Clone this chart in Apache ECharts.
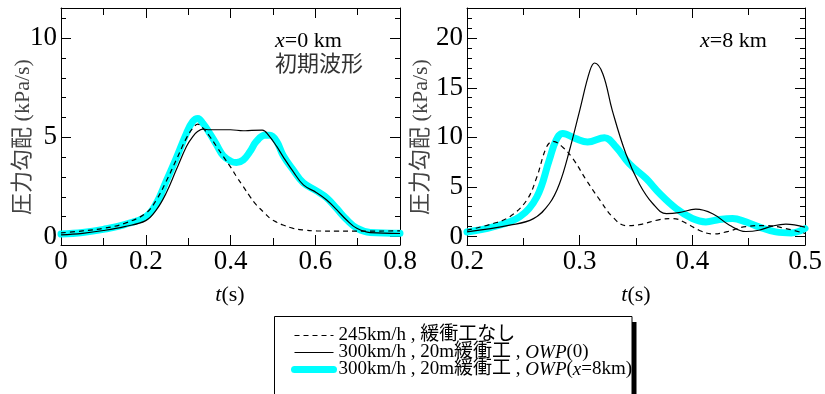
<!DOCTYPE html>
<html>
<head>
<meta charset="utf-8">
<script src="https://cdn.jsdelivr.net/npm/echarts@6/dist/echarts.min.js"></script>
<style>
html,body{margin:0;padding:0;background:#fff;}
#c{width:825px;height:394px;}
</style>
</head>
<body>
<div id="c"></div>
<script>
// ---------- data ----------
// Left panel: x = 0 km (initial waveform)
const L_dash_t = [0, 0.051, 0.1, 0.15, 0.2, 0.225, 0.248, 0.272, 0.296, 0.311, 0.323, 0.335, 0.351, 0.367, 0.383, 0.402, 0.414, 0.43, 0.446, 0.461, 0.481, 0.493, 0.509, 0.524, 0.548, 0.572, 0.603, 0.65, 0.7, 0.8];
const L_dash_v = [0.18, 0.28, 0.41, 0.66, 1.17, 1.84, 2.77, 3.86, 4.96, 5.46, 5.66, 5.46, 5.04, 4.54, 4.03, 3.44, 3.02, 2.52, 2.01, 1.59, 1.17, 0.92, 0.72, 0.58, 0.41, 0.33, 0.28, 0.27, 0.27, 0.28];

const L_solid_t = [0, 0.051, 0.1, 0.15, 0.2, 0.225, 0.248, 0.272, 0.296, 0.311, 0.323, 0.335, 0.351, 0.4, 0.43, 0.45, 0.475, 0.49, 0.509, 0.524, 0.548, 0.572, 0.603, 0.627, 0.651, 0.674, 0.698, 0.73, 0.8];
const L_solid_v = [0.08, 0.16, 0.3, 0.5, 0.8, 1.34, 2.18, 3.36, 4.54, 5.04, 5.3, 5.41, 5.38, 5.38, 5.33, 5.35, 5.36, 5.1, 4.54, 4.03, 3.27, 2.6, 2.21, 1.84, 1.34, 0.83, 0.41, 0.19, 0.15];

const L_cyan_t = [0, 0.051, 0.1, 0.15, 0.2, 0.225, 0.248, 0.272, 0.296, 0.311, 0.323, 0.335, 0.351, 0.367, 0.383, 0.402, 0.414, 0.43, 0.446, 0.461, 0.481, 0.493, 0.509, 0.524, 0.548, 0.572, 0.603, 0.627, 0.651, 0.674, 0.698, 0.73, 0.8];
const L_cyan_v = [0.12, 0.2, 0.36, 0.6, 1.0, 1.67, 2.77, 3.95, 5.2, 5.8, 5.95, 5.7, 5.2, 4.63, 4.07, 3.78, 3.73, 3.86, 4.28, 4.79, 5.1, 5.1, 4.79, 4.1, 3.35, 2.7, 2.3, 1.95, 1.4, 0.85, 0.42, 0.2, 0.16];

// Right panel: x = 8 km
const R_dash_t = [0.2, 0.223, 0.238, 0.253, 0.262, 0.2705, 0.2764, 0.285, 0.294, 0.306, 0.318, 0.329, 0.341, 0.353, 0.371, 0.383, 0.395, 0.406, 0.418, 0.43, 0.4475, 0.465, 0.483, 0.5];
const R_dash_v = [0.63, 1.3, 2.0, 3.66, 6.0, 9.0, 9.6, 9.0, 7.85, 5.67, 3.66, 2.0, 1.1, 1.2, 1.7, 1.81, 1.31, 0.63, 0.25, 0.46, 1.0, 1.1, 0.8, 0.3];

const R_solid_t = [0.2, 0.238, 0.259, 0.273, 0.282, 0.291, 0.3, 0.309, 0.3133, 0.3206, 0.329, 0.341, 0.353, 0.365, 0.377, 0.388, 0.403, 0.418, 0.433, 0.4475, 0.459, 0.471, 0.483, 0.5];
const R_solid_v = [0.46, 1.14, 1.8, 3.3, 5.3, 8.7, 12.7, 16.7, 17.5, 16.4, 12.7, 8.35, 5.3, 3.3, 2.3, 2.4, 2.75, 2.3, 1.14, 0.5, 0.63, 1.05, 1.25, 0.95];

const R_cyan_t = [0.2, 0.223, 0.247, 0.262, 0.273, 0.279, 0.285, 0.2965, 0.307, 0.322, 0.3325, 0.344, 0.359, 0.371, 0.3856, 0.4, 0.412, 0.424, 0.4357, 0.4475, 0.459, 0.474, 0.488, 0.5];
const R_cyan_v = [0.46, 0.97, 2.0, 4.0, 7.7, 9.7, 10.4, 9.87, 9.53, 9.97, 9.0, 7.35, 5.84, 4.33, 2.82, 1.81, 1.47, 1.71, 1.81, 1.47, 0.97, 0.46, 0.36, 0.8];

// axis ticks / labels
const L_yMajor = [0, 5, 10];
const L_yMinor = [1, 2, 3, 4, 6, 7, 8, 9, 11];
const R_yMajor = [0, 5, 10, 15, 20];
const R_yMinor = [1, 2, 3, 4, 6, 7, 8, 9, 11, 12, 13, 14, 16, 17, 18, 19, 21, 22, 23];

const legendNames = ['245km/h , 緩衝工なし', '300km/h , 20m緩衝工 , {i|OWP}(0)', '300km/h , 20m緩衝工 , {i|OWP}({i|x}=8km)'];
const yName = '圧力勾配 (kPa/s)';

// ---------- build ----------
const pairs = (t, v) => t.map((x, i) => [x, v[i]]);
const FONT = '"Liberation Serif", "Noto Sans CJK JP", serif';
const black = '#000';

function xAxis(grid, pos, min, max, interval, labels) {
  return {
    type: 'value', gridIndex: grid, position: pos, min: min, max: max, interval: interval,
    axisLine: { show: true, onZero: false, lineStyle: { color: black, width: 1 } },
    axisTick: { show: true, inside: true, length: 10, lineStyle: { color: black } },
    minorTick: { show: true, splitNumber: 2, length: 7, lineStyle: { color: black } },
    splitLine: { show: false }, minorSplitLine: { show: false },
    axisLabel: {
      show: labels, margin: 3, color: black, fontFamily: FONT, fontSize: 27,
      formatter: v => (Math.abs(v) < 1e-9 ? '0' : v.toFixed(1))
    }
  };
}
function yAxis(grid, pos, min, max, values, len, labels, line) {
  return {
    type: 'value', gridIndex: grid, position: pos, min: min, max: max,
    axisLine: { show: line, onZero: false, lineStyle: { color: black, width: 1 } },
    axisTick: { show: true, inside: true, length: len, customValues: values, lineStyle: { color: black } },
    splitLine: { show: false },
    axisLabel: { show: labels, customValues: values, margin: 4, color: black, fontFamily: FONT, fontSize: 27 }
  };
}

const LYMIN = -0.43, LYMAX = 11.52, RYMIN = -0.86, RYMAX = 23.05;

function lineSeries(name, data, xi, yi, kind) {
  const s = { name: name, type: 'line', data: data, xAxisIndex: xi, yAxisIndex: yi, smooth: 0.4, symbol: 'none', showSymbol: false, animation: false, silent: true };
  if (kind === 'cyan') s.lineStyle = { color: '#00ffff', width: 7, cap: 'round', join: 'round' };
  if (kind === 'solid') s.lineStyle = { color: black, width: 1.2 };
  if (kind === 'dash') s.lineStyle = { color: black, width: 1.2, type: [5, 4] };
  s.itemStyle = { color: kind === 'cyan' ? '#00ffff' : black };
  return s;
}

const option = {
  backgroundColor: '#fff',
  animation: false,
  grid: [
    { left: 61, top: 8, width: 339, height: 237 },
    { left: 467, top: 8, width: 338, height: 237 }
  ],
  xAxis: [
    xAxis(0, 'bottom', 0, 0.8, 0.2, true),
    xAxis(0, 'top', 0, 0.8, 0.2, false),
    xAxis(1, 'bottom', 0.2, 0.5, 0.1, true),
    xAxis(1, 'top', 0.2, 0.5, 0.1, false)
  ],
  yAxis: [
    yAxis(0, 'left', LYMIN, LYMAX, L_yMajor, 10, true, true),
    yAxis(0, 'left', LYMIN, LYMAX, L_yMinor, 5, false, false),
    yAxis(0, 'right', LYMIN, LYMAX, L_yMajor, 10, false, true),
    yAxis(0, 'right', LYMIN, LYMAX, L_yMinor, 5, false, false),
    yAxis(1, 'left', RYMIN, RYMAX, R_yMajor, 10, true, true),
    yAxis(1, 'left', RYMIN, RYMAX, R_yMinor, 5, false, false),
    yAxis(1, 'right', RYMIN, RYMAX, R_yMajor, 10, false, true),
    yAxis(1, 'right', RYMIN, RYMAX, R_yMinor, 5, false, false)
  ],
  legend: {
    orient: 'vertical', left: 291, top: 326, padding: 0, itemWidth: 39, itemHeight: 10, itemGap: -2,
    selectedMode: false, z: 10,
    itemStyle: { opacity: 0 },
    textStyle: { fontFamily: FONT, fontSize: 19, color: black,
      rich: { i: { fontStyle: 'italic', fontFamily: FONT, fontSize: 19, color: black } } },
    data: [
      { name: legendNames[0], lineStyle: { width: 1.2, type: [5, 4], color: black, opacity: 1 } },
      { name: legendNames[1], lineStyle: { width: 1.2, type: 'solid', color: black, opacity: 1 } },
      { name: legendNames[2], lineStyle: { width: 7, type: 'solid', color: '#00ffff', cap: 'round', opacity: 1 } }
    ]
  },
  graphic: [
    { type: 'rect', z: 1, shape: { x: 278, y: 322, width: 358.5, height: 80 }, style: { fill: '#000' } },
    { type: 'rect', z: 2, shape: { x: 274.5, y: 316.5, width: 357.5, height: 80 }, style: { fill: '#fff', stroke: '#000', lineWidth: 1 } },
    { type: 'text', z: 3, x: 275, y: 41, style: { text: '{i|x}=0 km', font: '22px ' + FONT, fill: black, verticalAlign: 'middle',
      rich: { i: { fontStyle: 'italic', fontSize: 22, fontFamily: FONT, fill: black } } } },
    { type: 'text', z: 3, x: 275, y: 65.5, style: { text: '初期波形', font: '22px ' + FONT, fill: '#333', verticalAlign: 'middle' } },
    { type: 'text', z: 3, x: 700, y: 41, style: { text: '{i|x}=8 km', font: '22px ' + FONT, fill: black, verticalAlign: 'middle',
      rich: { i: { fontStyle: 'italic', fontSize: 22, fontFamily: FONT, fill: black } } } },
    { type: 'text', z: 3, x: 23, y: 137, rotation: Math.PI / 2, style: { text: yName, font: '22px ' + FONT, fill: '#444', align: 'center', verticalAlign: 'middle' } },
    { type: 'text', z: 3, x: 421, y: 137, rotation: Math.PI / 2, style: { text: yName, font: '22px ' + FONT, fill: '#444', align: 'center', verticalAlign: 'middle' } },
    { type: 'text', z: 3, x: 230, y: 295, style: { text: '{i|t}(s)', font: '22px ' + FONT, fill: black, align: 'center', verticalAlign: 'middle',
      rich: { i: { fontStyle: 'italic', fontSize: 22, fontFamily: FONT, fill: black } } } },
    { type: 'text', z: 3, x: 636, y: 295, style: { text: '{i|t}(s)', font: '22px ' + FONT, fill: black, align: 'center', verticalAlign: 'middle',
      rich: { i: { fontStyle: 'italic', fontSize: 22, fontFamily: FONT, fill: black } } } }
  ],
  series: [
    lineSeries(legendNames[2], pairs(L_cyan_t, L_cyan_v), 0, 0, 'cyan'),
    lineSeries(legendNames[1], pairs(L_solid_t, L_solid_v), 0, 0, 'solid'),
    lineSeries(legendNames[0], pairs(L_dash_t, L_dash_v), 0, 0, 'dash'),
    lineSeries(legendNames[2], pairs(R_cyan_t, R_cyan_v), 2, 4, 'cyan'),
    lineSeries(legendNames[1], pairs(R_solid_t, R_solid_v), 2, 4, 'solid'),
    lineSeries(legendNames[0], pairs(R_dash_t, R_dash_v), 2, 4, 'dash')
  ]
};
// legend labels: rich text markup kept as-is
option.legend.formatter = n => n;

const chart = echarts.init(document.getElementById('c'), null, { renderer: 'canvas' });
chart.setOption(option);
</script>
</body>
</html>
